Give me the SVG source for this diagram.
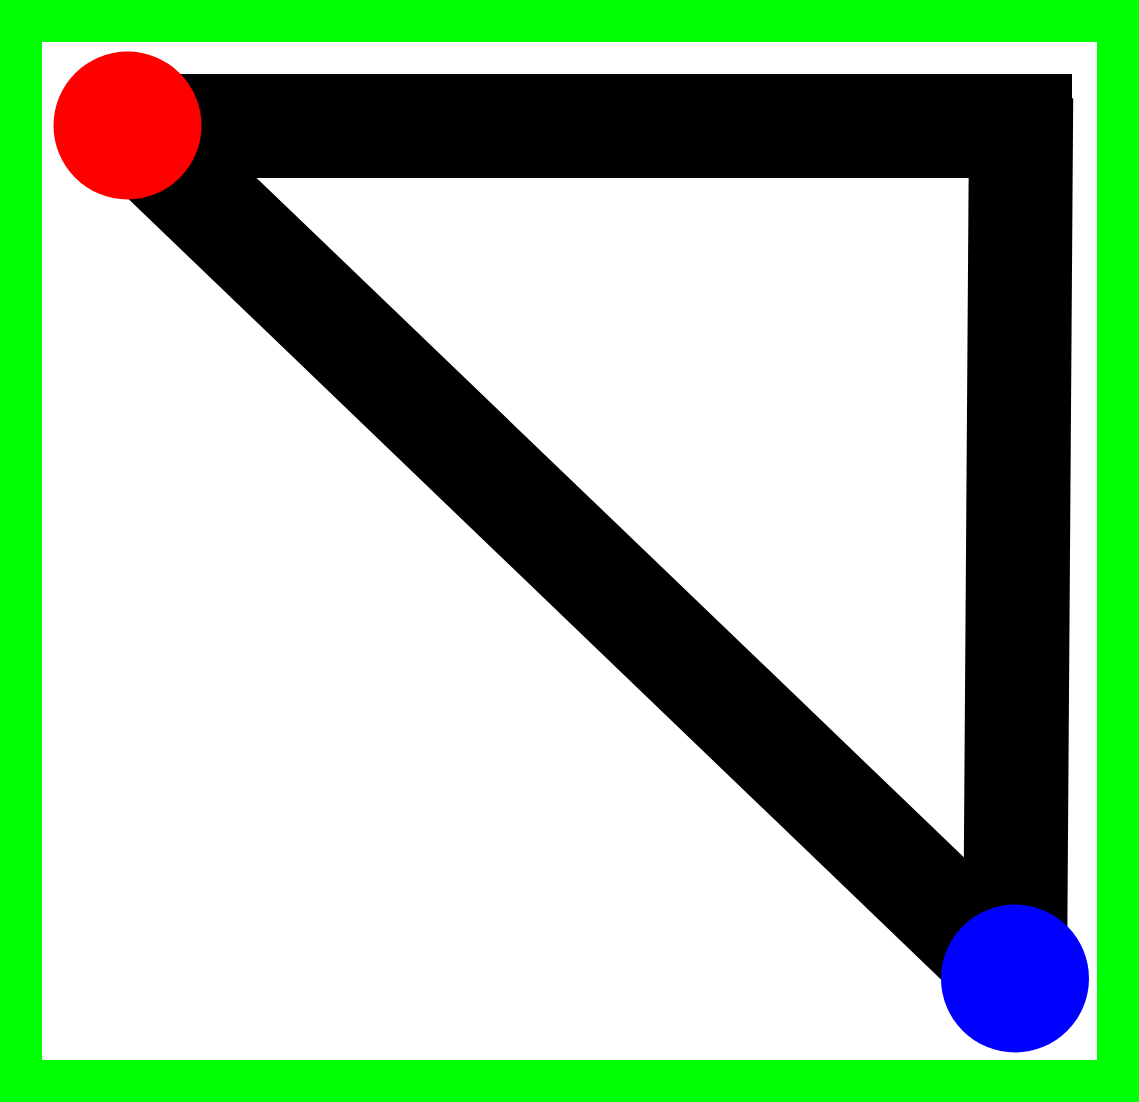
<svg xmlns="http://www.w3.org/2000/svg" width="1139" height="1102" viewBox="0 0 1139 1102">
  <style>
    .edge { stroke: #000000; stroke-width: 104; fill: none; stroke-linecap: butt; }
    .frame { fill: #ffffff; stroke: #00ff00; stroke-width: 42; }
  </style>
  <rect class="frame" x="21" y="21" width="1097" height="1060"/>
  <g id="connectors">
    <line class="edge" x1="127" y1="126" x2="1072" y2="126"/>
    <line class="edge" x1="1021.2" y1="98" x2="1015" y2="978"/>
    <line class="edge" x1="127" y1="125.5" x2="1015" y2="978.5"/>
  </g>
  <g id="node-red">
    <circle cx="127.5" cy="125.5" r="74" fill="#ff0000"/>
  </g>
  <g id="node-blue">
    <circle cx="1015" cy="978.5" r="74" fill="#0000ff"/>
  </g>
</svg>
